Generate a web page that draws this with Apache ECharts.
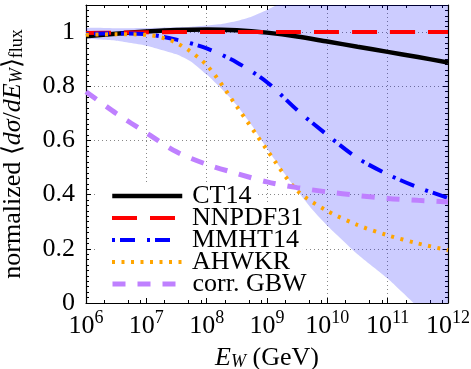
<!DOCTYPE html>
<html><head><meta charset="utf-8">
<script src="https://cdn.jsdelivr.net/npm/echarts@6/dist/echarts.min.js"></script>
<style>html,body{margin:0;padding:0;background:#fff}#c{width:471px;height:369px}</style>
</head><body><div id="c"></div>
<script>
// ---- data ----
const energies = [1e6, 3.16e6, 1e7, 3.16e7, 1e8, 3.16e8, 1e9, 3.16e9, 1e10, 3.16e10, 1e11, 3.16e11, 1e12];
const ct14    = [0.985, 0.994, 1.002, 1.008, 1.010, 1.007, 0.998, 0.984, 0.965, 0.946, 0.927, 0.908, 0.888];
const nnpdf31 = [0.997, 0.998, 0.999, 1.000, 1.000, 1.000, 1.000, 1.000, 1.000, 1.000, 1.000, 1.000, 1.000];
const mmht14  = [0.993, 0.995, 0.992, 0.972, 0.940, 0.888, 0.815, 0.712, 0.620, 0.535, 0.475, 0.427, 0.388];
const ahwkr   = [0.990, 0.992, 0.990, 0.960, 0.878, 0.725, 0.565, 0.415, 0.340, 0.288, 0.250, 0.220, 0.195];
const gbw     = [0.780, 0.700, 0.628, 0.558, 0.512, 0.478, 0.447, 0.426, 0.410, 0.397, 0.386, 0.379, 0.373];
const bandEnergies = [1e6, 3.16e6, 1e7, 3.16e7, 5.62e7, 1e8, 1.78e8, 3.16e8, 5.62e8, 1e9, 1.78e9, 3.16e9, 5.62e9, 1e10, 3.16e10, 1e11, 3.16e11, 1e12];
const bandUp  = [1.014, 1.014, 1.015, 1.018, 1.020, 1.024, 1.030, 1.041, 1.058, 1.082, 1.110, 1.140, 1.170, 1.200, 1.260, 1.320, 1.380, 1.440];
const bandLow = [0.978, 0.968, 0.950, 0.918, 0.890, 0.843, 0.790, 0.730, 0.655, 0.570, 0.490, 0.415, 0.345, 0.285, 0.180, 0.090, -0.015, -0.120];
const seriesNames = ['CT14', 'NNPDF31', 'MMHT14', 'AHWKR', 'corr. GBW'];
const xMinorFactors = [2, 5, 8];

const FONT = 'Liberation Serif';
const pairs = (ys) => energies.map((e, i) => [e, ys[i]]);

const styles = [
  {color: '#000000', width: 4.5, type: 'solid'},
  {color: '#ff0000', width: 4, type: [25, 13]},
  {color: '#0000ff', width: 4, type: [3, 5, 15, 12]},
  {color: '#ffa500', width: 4, type: [3, 6.5]},
  {color: '#bf80ff', width: 5, type: [13, 12]}
];
const lineData = [ct14, nnpdf31, mmht14, ahwkr, gbw];

function minorX(pos, f) {
  return {
    type: 'log', logBase: 10, min: 1e6 * 10 / f, max: 1e12 * 10 / f, position: pos,
    axisLine: {show: false}, axisLabel: {show: false}, splitLine: {show: false},
    axisTick: {show: true, inside: true, length: 3, lineStyle: {color: '#000', width: 1}},
    minorTick: {show: false}, silent: true
  };
}

const xAxes = [
  {
    type: 'log', logBase: 10, min: 1e6, max: 1e12, position: 'bottom',
    axisLine: {show: true, onZero: false, lineStyle: {color: '#000', width: 1.2}},
    axisTick: {show: true, inside: true, length: 5, lineStyle: {color: '#000', width: 1}},
    minorTick: {show: false},
    splitLine: {show: true, lineStyle: {color: '#888', width: 1, type: [1, 3]}},
    axisLabel: {
      show: true, margin: 6, showMinLabel: true, showMaxLabel: true, hideOverlap: false,
      fontFamily: FONT,
      formatter: (v) => '{b|10}{s|' + Math.round(Math.log10(v)) + '}',
      rich: {
        b: {fontFamily: FONT, fontSize: 26, color: '#000', lineHeight: 30, verticalAlign: 'bottom'},
        s: {fontFamily: FONT, fontSize: 18, color: '#000', lineHeight: 18, verticalAlign: 'top'}
      }
    },
    name: '{i|E}{w|W}{n| (GeV)}', nameLocation: 'middle', nameGap: 42,
    nameTextStyle: {
      fontFamily: FONT,
      rich: {
        i: {fontFamily: FONT, fontSize: 26, fontStyle: 'italic', color: '#000', lineHeight: 26, padding: [0, 0, 5, 0], verticalAlign: 'top'},
        w: {fontFamily: FONT, fontSize: 18, fontStyle: 'italic', color: '#000', lineHeight: 18, verticalAlign: 'bottom'},
        n: {fontFamily: FONT, fontSize: 26, color: '#000', lineHeight: 26, padding: [0, 0, 5, 0], verticalAlign: 'top'}
      }
    }
  },
  {
    type: 'log', logBase: 10, min: 1e6, max: 1e12, position: 'top',
    axisLine: {show: true, onZero: false, lineStyle: {color: '#000', width: 1.2}},
    axisTick: {show: true, inside: true, length: 5, lineStyle: {color: '#000', width: 1}},
    minorTick: {show: false}, splitLine: {show: false}, axisLabel: {show: false}
  }
];
xMinorFactors.forEach(f => xAxes.push(minorX('bottom', f)));
xMinorFactors.forEach(f => xAxes.push(minorX('top', f)));

function yAx(pos, main) {
  return {
    type: 'value', min: 0, max: 1.1, interval: 0.2, position: pos,
    axisLine: {show: true, onZero: false, lineStyle: {color: '#000', width: 1.2}},
    axisTick: {show: true, inside: true, length: 5, lineStyle: {color: '#000', width: 1}},
    minorTick: {show: true, splitNumber: 10, length: 3, lineStyle: {color: '#000', width: 1}},
    splitLine: {show: main, lineStyle: {color: '#888', width: 1, type: [1, 3]}},
    minorSplitLine: {show: false},
    axisLabel: main ? {
      show: true, margin: 11, fontFamily: FONT,
      formatter: (v) => {
        if (v > 1.05) return '';
        const s = v === 0 ? '0' : (Math.abs(v - 1) < 1e-9 ? '1' : v.toFixed(1));
        return '{t|' + s + '}';
      },
      rich: {t: {fontFamily: FONT, fontSize: 26, color: '#000', lineHeight: 26}}
    } : {show: false},
    name: main ? '{n|normalized }{n|\u27e8}{i|d\u03c3}{n|/}{i|dE}{w|W}{n|\u27e9}{f|flux}' : '',
    nameLocation: 'middle', nameRotate: 90, nameGap: 52,
    nameTextStyle: {
      fontFamily: FONT,
      rich: {
        n: {fontFamily: FONT, fontSize: 26, color: '#000', lineHeight: 26, padding: [0, 0, 5, 0], verticalAlign: 'top'},
        i: {fontFamily: FONT, fontSize: 26, fontStyle: 'italic', color: '#000', lineHeight: 26, padding: [0, 0, 5, 0], verticalAlign: 'top'},
        w: {fontFamily: FONT, fontSize: 18, fontStyle: 'italic', color: '#000', lineHeight: 18, verticalAlign: 'bottom'},
        f: {fontFamily: FONT, fontSize: 18, color: '#000', lineHeight: 18, verticalAlign: 'bottom'}
      }
    }
  };
}

const series = [
  {
    type: 'custom', name: 'band', coordinateSystem: 'cartesian2d', xAxisIndex: 0, yAxisIndex: 0,
    data: bandEnergies.map((e, i) => [e, bandLow[i], bandUp[i]]),
    encode: {x: 0, y: [1, 2]},
    clip: true, silent: true, z: 5,
    renderItem: (params, api) => {
      if (params.dataIndex !== 0) return null;
      const up = bandEnergies.map((e, i) => api.coord([e, bandUp[i]]));
      const lo = bandEnergies.map((e, i) => api.coord([e, bandLow[i]])).reverse();
      const cs = params.coordSys;
      return {
        type: 'group',
        children: [{
          type: 'polygon',
          shape: {points: up.concat(lo), smooth: 0.15},
          style: {fill: 'rgba(0,0,255,0.2)', stroke: null}
        }],
        clipPath: {type: 'rect', shape: {x: cs.x, y: cs.y, width: cs.width, height: cs.height}}
      };
    }
  }
];
seriesNames.forEach((n, i) => series.push({
  type: 'line', name: n, data: pairs(lineData[i]), symbol: 'none', showSymbol: false, smooth: 0.3,
  lineStyle: {color: styles[i].color, width: styles[i].width, type: styles[i].type, cap: 'butt'},
  itemStyle: {color: styles[i].color}, z: 6
}));

// one legend component per row so that the row pitch is exact
const legends = seriesNames.map((n, i) => ({
  orient: 'vertical', left: 97, top: 182 + i * 22, itemWidth: 70, itemHeight: 14, itemGap: 0, z: 4,
  padding: [1, 4, 1, 13], backgroundColor: '#fff', selectedMode: false,
  itemStyle: {opacity: 0},
  formatter: (name) => '{t|' + name + '}',
  textStyle: {fontFamily: FONT, fontSize: 26, color: '#000',
    rich: {t: {fontFamily: FONT, fontSize: 26, color: '#000', lineHeight: 22, padding: [0, 0, 0, 5]}}},
  data: [{name: n,
    lineStyle: {color: styles[i].color, width: styles[i].width, type: styles[i].type},
    itemStyle: {color: styles[i].color, opacity: 0}}]
}));

const chart = echarts.init(document.getElementById('c'), null, {renderer: 'canvas'});
chart.setOption({
  animation: false,
  backgroundColor: '#fff',
  textStyle: {fontFamily: FONT},
  grid: {left: 86, right: 23, top: 5, bottom: 66, containLabel: false, outerBoundsMode: 'none'},
  xAxis: xAxes,
  yAxis: [yAx('left', true), yAx('right', false)],
  legend: legends,
  series: series
});
</script></body></html>
